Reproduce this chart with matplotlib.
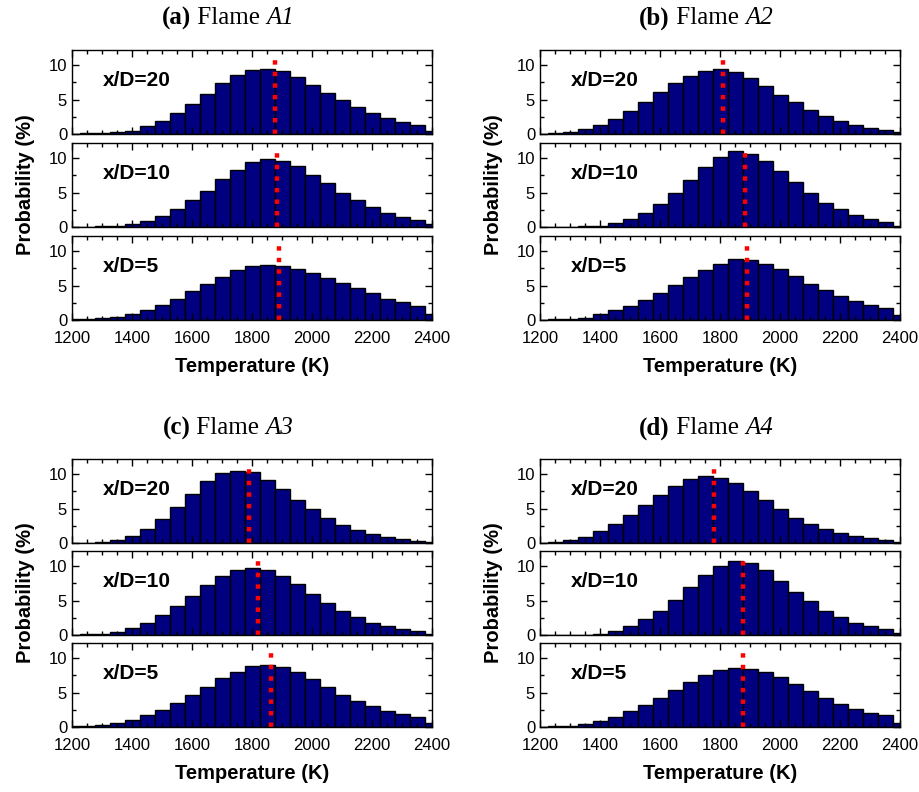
import numpy as np
import matplotlib
matplotlib.use("Agg")
import matplotlib.pyplot as plt
from matplotlib.ticker import MultipleLocator

plt.rcParams['font.family'] = ['Liberation Sans', 'DejaVu Sans']

# bin centres (K)
temps = np.arange(1200, 2401, 50)

# probability (%) per bin
a1_20 = [0.02, 0.08, 0.15, 0.25, 0.5, 1.1, 1.9, 3.0, 4.3, 5.8, 7.4, 8.6, 9.3, 9.4, 9.1, 8.3, 7.1, 6.0, 4.9, 3.9, 3.0, 2.3, 1.7, 1.35, 0.5]
a1_10 = [0.02, 0.05, 0.08, 0.15, 0.45, 0.9, 1.65, 2.6, 3.9, 5.3, 6.9, 8.3, 9.4, 9.85, 9.65, 8.85, 7.6, 6.4, 5.0, 3.9, 2.85, 2.1, 1.5, 1.05, 0.4]
a1_5 = [0.1, 0.2, 0.35, 0.45, 0.8, 1.4, 2.2, 3.1, 4.2, 5.3, 6.3, 7.25, 7.8, 8.0, 7.9, 7.45, 6.8, 6.1, 5.4, 4.6, 3.85, 3.1, 2.55, 2.0, 0.8]

a2_20 = [0.03, 0.1, 0.3, 0.7, 1.3, 2.2, 3.3, 4.6, 6.1, 7.35, 8.45, 9.2, 9.4, 9.0, 8.2, 7.0, 5.7, 4.6, 3.45, 2.6, 1.9, 1.35, 0.9, 0.6, 0.25]
a2_10 = [0.0, 0.02, 0.05, 0.08, 0.15, 0.6, 1.15, 2.1, 3.3, 4.9, 6.85, 8.7, 10.1, 11.0, 10.6, 9.65, 8.15, 6.5, 5.0, 3.5, 2.55, 1.75, 1.2, 0.75, 0.15]
a2_5 = [0.05, 0.1, 0.2, 0.35, 0.8, 1.4, 2.05, 2.9, 3.95, 5.05, 6.2, 7.3, 8.2, 8.8, 8.75, 8.15, 7.4, 6.4, 5.3, 4.4, 3.5, 2.8, 2.2, 1.75, 0.7]

a3_20 = [0.02, 0.05, 0.2, 0.5, 1.05, 2.1, 3.5, 5.2, 7.1, 8.95, 10.1, 10.5, 10.25, 9.2, 7.9, 6.3, 4.9, 3.6, 2.6, 1.85, 1.25, 0.85, 0.6, 0.35, 0.15]
a3_10 = [0.05, 0.1, 0.15, 0.45, 1.0, 1.8, 2.85, 4.2, 5.7, 7.2, 8.5, 9.4, 9.8, 9.4, 8.6, 7.35, 6.0, 4.65, 3.5, 2.55, 1.8, 1.25, 0.85, 0.6, 0.2]
a3_5 = [0.1, 0.15, 0.25, 0.55, 1.05, 1.75, 2.5, 3.5, 4.65, 5.85, 7.05, 8.05, 8.8, 9.05, 8.65, 7.95, 6.9, 5.75, 4.65, 3.8, 3.0, 2.35, 1.9, 1.45, 0.6]

a4_20 = [0.05, 0.15, 0.4, 0.9, 1.7, 2.7, 4.0, 5.45, 7.0, 8.25, 9.35, 9.75, 9.5, 8.75, 7.6, 6.25, 4.9, 3.7, 2.75, 2.0, 1.45, 1.0, 0.7, 0.5, 0.2]
a4_10 = [0.0, 0.02, 0.02, 0.05, 0.2, 0.6, 1.3, 2.3, 3.5, 5.05, 6.95, 8.7, 10.05, 10.7, 10.45, 9.4, 7.9, 6.3, 4.9, 3.55, 2.55, 1.8, 1.25, 0.8, 0.3]
a4_5 = [0.05, 0.1, 0.2, 0.45, 0.9, 1.5, 2.3, 3.25, 4.25, 5.4, 6.6, 7.55, 8.3, 8.6, 8.45, 7.95, 7.2, 6.2, 5.2, 4.25, 3.35, 2.65, 2.1, 1.7, 0.65]

# mean temperature (K) for x/D = 20, 10, 5
means_a1 = [1877, 1882, 1890]
means_a2 = [1811, 1883, 1889]
means_a3 = [1789, 1821, 1862]
means_a4 = [1781, 1878, 1878]

stations = ["x/D=20", "x/D=10", "x/D=5"]
panel_tags = ["(a)", "(b)", "(c)", "(d)"]
flame_names = ["A1", "A2", "A3", "A4"]

panels = [
    ([a1_20, a1_10, a1_5], means_a1),
    ([a2_20, a2_10, a2_5], means_a2),
    ([a3_20, a3_10, a3_5], means_a3),
    ([a4_20, a4_10, a4_5], means_a4),
]

W, H = 919, 792
fig = plt.figure(figsize=(W / 100, H / 100), dpi=100)
renderer = fig.canvas.get_renderer()


def px_axes(left, top, width, height):
    return fig.add_axes([left / W, 1 - (top + height) / H, width / W, height / H])


def title_parts(xc, yc, parts, size=18):
    # lay out mixed-style serif pieces side by side, centred on xc
    texts = [fig.text(0, 1 - yc / H, s, fontsize=size, family="Liberation Serif",
                      fontweight=wt, style=st, va="center", ha="left")
             for s, wt, st in parts]
    widths = [t.get_window_extent(renderer).width for t in texts]
    x = xc - sum(widths) / 2
    for t, w in zip(texts, widths):
        t.set_x(x / W)
        x += w


lefts = [72, 540, 72, 540]
tops = [[50, 143, 236], [50, 143, 236], [459, 551, 643], [459, 551, 643]]
title_x = [228, 706, 228, 706]
title_y = [18, 18, 428, 428]
ax_w, ax_h = 360, 84

for ip, (series, means) in enumerate(panels):
    for ir in range(3):
        ax = px_axes(lefts[ip], tops[ip][ir], ax_w, ax_h)
        ax.bar(temps, series[ir], width=50, color="#000080", edgecolor="black", linewidth=1.0)
        ax.plot([means[ir], means[ir]], [0, 11.3], color="red", lw=3.2,
                linestyle=(0, (1, 1.6)), dash_capstyle="butt")
        ax.set_xlim(1200, 2400)
        ax.set_ylim(0, 12.2)
        ax.xaxis.set_major_locator(MultipleLocator(200))
        ax.xaxis.set_minor_locator(MultipleLocator(50))
        ax.yaxis.set_major_locator(MultipleLocator(5))
        ax.yaxis.set_minor_locator(MultipleLocator(2.5))
        ax.tick_params(which="both", direction="in", top=True, right=True, labelsize=12, width=1)
        ax.tick_params(which="major", length=5)
        ax.tick_params(which="minor", length=3)
        ax.tick_params(axis="x", pad=8)
        for sp in ax.spines.values():
            sp.set_linewidth(1.0)
        ax.text(0.086, 0.64, stations[ir], transform=ax.transAxes, fontsize=15,
                fontweight="bold", va="center", ha="left")
        if ir < 2:
            ax.set_xticklabels([])
        else:
            ax.set_xlabel("Temperature (K)", fontsize=14.5, fontweight="bold", labelpad=8)
        if ir == 1:
            ax.set_ylabel("Probability (%)", fontsize=14.5, fontweight="bold", labelpad=10)
    title_parts(title_x[ip], title_y[ip],
                [(panel_tags[ip], "bold", "normal"), (" Flame ", "normal", "normal"),
                 (flame_names[ip], "normal", "italic")])

fig.savefig("out.png", dpi=100)
